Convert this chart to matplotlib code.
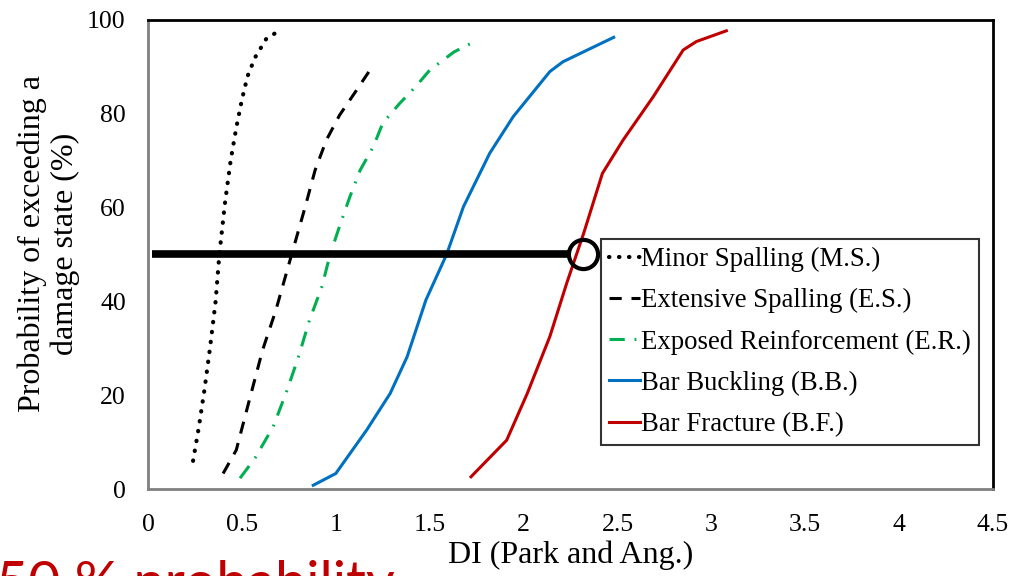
import matplotlib
matplotlib.use("Agg")
import matplotlib.pyplot as plt

# fragility curves: DI (Park and Ang) vs probability of exceeding damage state (%)
ms_di = [0.24, 0.27, 0.30, 0.33, 0.36, 0.38, 0.41, 0.44, 0.47, 0.50, 0.53, 0.57, 0.63, 0.71]
ms_p = [6, 13, 21, 30, 40, 50, 61, 70, 77, 83, 88, 92, 96, 98]

es_di = [0.40, 0.47, 0.54, 0.61, 0.68, 0.765, 0.836, 0.89, 0.95, 1.02, 1.11, 1.20]
es_p = [3.3, 8.3, 19, 29.6, 38, 50, 60, 68, 74.4, 79.7, 85, 90.4]

er_di = [0.49, 0.57, 0.667, 0.74, 0.80, 0.86, 0.925, 0.97, 1.02, 1.075, 1.13, 1.20, 1.25,
         1.34, 1.43, 1.50, 1.63, 1.74]
er_p = [2.3, 6.6, 13.3, 21, 28, 36, 43, 50, 56, 62.3, 68, 73, 78, 82.2, 86, 89.3, 93.2, 95.4]

bb_di = [0.88, 1.0, 1.165, 1.29, 1.38, 1.48, 1.59, 1.68, 1.82, 1.945, 2.14, 2.21, 2.48]
bb_p = [0.8, 3.3, 12.6, 20.4, 28.2, 40.3, 50, 60.2, 71.6, 79.4, 89, 91.1, 96.3]

bf_di = [1.72, 1.91, 2.02, 2.14, 2.23, 2.32, 2.42, 2.53, 2.69, 2.85, 2.92, 3.08]
bf_p = [2.6, 10.4, 20.4, 32.5, 43.9, 54.5, 67.3, 74.4, 83.6, 93.6, 95.4, 97.7]

labels = ["Minor Spalling (M.S.)", "Extensive Spalling (E.S.)",
          "Exposed Reinforcement (E.R.)", "Bar Buckling (B.B.)", "Bar Fracture (B.F.)"]

# 50 % probability marker on the bar fracture curve
p50 = 50
di50_start = 0.02
di50_end = 2.24
di50_bf = 2.316

x_ticks = [0, 0.5, 1, 1.5, 2, 2.5, 3, 3.5, 4, 4.5]
x_ticklabels = ["0", "0.5", "1", "1.5", "2", "2.5", "3", "3.5", "4", "4.5"]
y_ticks = [0, 20, 40, 60, 80, 100]

plt.rcParams["font.family"] = ["Liberation Serif", "DejaVu Serif"]

fig = plt.figure(figsize=(10.28, 5.76), dpi=100)
ax = fig.add_axes([148 / 1028, 1 - 489 / 576, 845 / 1028, 469 / 576])

ax.plot(ms_di, ms_p, color="black", lw=3, linestyle=(0, (0.1, 2.3)),
        dash_capstyle="round", label=labels[0])
ax.plot(es_di, es_p, color="black", lw=2.2, linestyle=(0, (4, 3.2)), label=labels[1])
ax.plot(er_di, er_p, color="#00B050", lw=2.2, linestyle=(0, (5, 3.2, 0.6, 3.2)),
        label=labels[2])
ax.plot(bb_di, bb_p, color="#0070C0", lw=2.2, label=labels[3])
ax.plot(bf_di, bf_p, color="#C00000", lw=2.2, label=labels[4])

ax.plot([di50_start, di50_end], [p50, p50], color="black", lw=5.5, solid_capstyle="butt")
ax.plot([di50_bf], [p50], marker="o", ms=21, mfc="none", mec="black", mew=3)

ax.set_xlim(0, 4.5)
ax.set_ylim(0, 100)
ax.set_xticks(x_ticks)
ax.set_xticklabels(x_ticklabels)
ax.set_yticks(y_ticks)
ax.tick_params(axis="both", length=0, labelsize=18.5)
ax.tick_params(axis="x", pad=18)
ax.tick_params(axis="y", pad=16)

for side in ["top", "right"]:
    ax.spines[side].set_color("black")
    ax.spines[side].set_linewidth(2)
for side in ["left", "bottom"]:
    ax.spines[side].set_color("#808080")
    ax.spines[side].set_linewidth(2)

ax.set_xlabel("DI (Park and Ang.)", fontsize=23, labelpad=3)
fig.text(49 / 1028, 1 - 244 / 576, "Probability of exceeding a\ndamage state (%)",
         rotation=90, ha="center", va="center", fontsize=23, linespacing=1.15)

leg = ax.legend(loc="upper left", bbox_to_anchor=((601 - 148) / 845, (489 - 239) / 469),
                borderaxespad=0, fontsize=19.3, frameon=True, fancybox=False,
                handlelength=1.15, handletextpad=0.05, labelspacing=0.6,
                borderpad=0.3)
leg.get_frame().set_edgecolor("black")
leg.get_frame().set_linewidth(1.5)

fig.text(-4 / 1028, -25 / 576, "50 % probability", color="#C00000", fontsize=40,
         family="Lato", ha="left", va="baseline")

fig.savefig("out.png", dpi=100)
